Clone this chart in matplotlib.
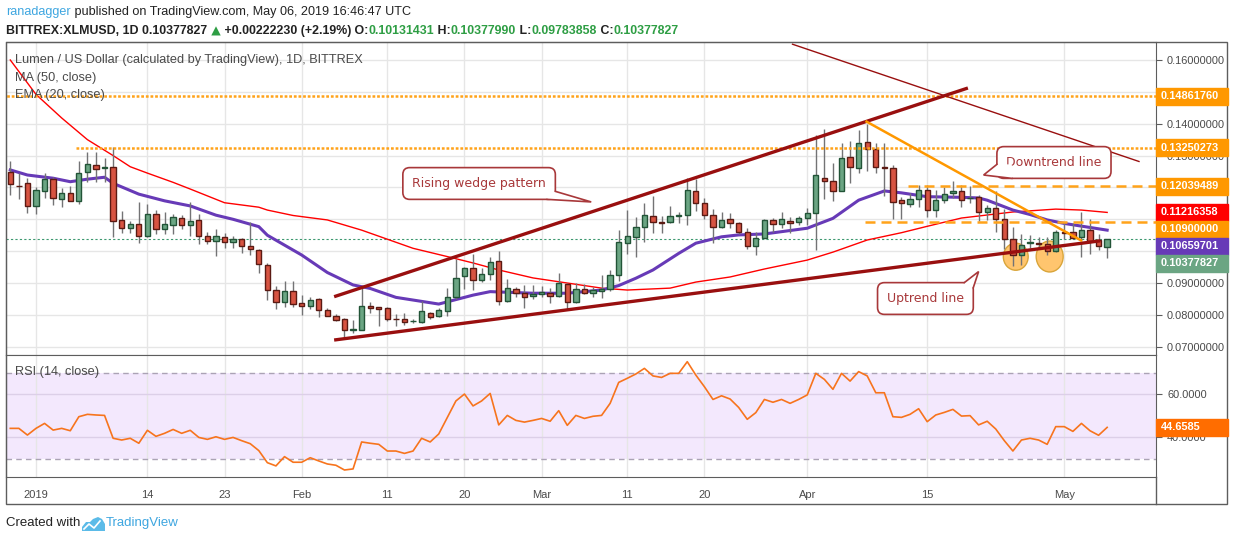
import numpy as np
import pandas as pd
import matplotlib
matplotlib.use("Agg")
import matplotlib.pyplot as plt
import matplotlib.dates as mdates
from matplotlib.patches import Rectangle, Ellipse, Polygon
from matplotlib.lines import Line2D
from matplotlib.ticker import FormatStrFormatter

# XLM/USD daily candles, Dec 29 2018 .. May 6 2019
dates = pd.date_range("2018-12-29", "2019-05-06", freq="D")

opens = [0.12495, 0.12056, 0.12129, 0.11407, 0.11878, 0.12255, 0.11627, 0.11815, 0.11564, 0.12474,
         0.12694, 0.12625, 0.12631, 0.10968, 0.10717, 0.10842, 0.10466, 0.11156, 0.10685, 0.10811,
         0.11031, 0.10811, 0.10968, 0.10466, 0.10309, 0.10434, 0.10277, 0.10372, 0.10152, 0.10026,
         0.09556, 0.08771, 0.08394, 0.08739, 0.08363, 0.08269, 0.08489, 0.08143, 0.07965, 0.07861,
         0.07526, 0.07515, 0.08279, 0.08248, 0.08206, 0.07866, 0.07861, 0.07793, 0.07766, 0.08049,
         0.07955, 0.08112, 0.08551, 0.09210, 0.09461, 0.09085, 0.09283, 0.09681, 0.08426, 0.08802,
         0.08677, 0.08582, 0.08645, 0.08698, 0.08593, 0.08959, 0.08394, 0.08802, 0.08677, 0.08750,
         0.08802, 0.09241, 0.10246, 0.10455, 0.10748, 0.11093, 0.10905, 0.10905, 0.11093, 0.11125,
         0.11878, 0.11501, 0.11125, 0.10748, 0.10999, 0.10874, 0.10591, 0.10152, 0.10403, 0.10968,
         0.10842, 0.10936, 0.10905, 0.11030, 0.11187, 0.12286, 0.12192, 0.11878, 0.12945, 0.12600,
         0.13416, 0.13196, 0.12631, 0.12600, 0.11595, 0.11470, 0.11627, 0.11909, 0.11281, 0.11595,
         0.11815, 0.11878, 0.11658, 0.11689, 0.11219, 0.11344, 0.10999, 0.10371, 0.09869, 0.10267,
         0.10267, 0.10215, 0.09995, 0.10591, 0.10591, 0.10434, 0.10654, 0.10340, 0.10131431]

highs = [0.12841, 0.12443, 0.12286, 0.12025, 0.12443, 0.12317, 0.11983, 0.12046, 0.12830, 0.13113,
         0.13113, 0.12914, 0.13259, 0.11261, 0.10947, 0.11543, 0.11481, 0.11292, 0.11229, 0.11177,
         0.11125, 0.11543, 0.11156, 0.10591, 0.10685, 0.10560, 0.10476, 0.10403, 0.10916, 0.10058,
         0.09618, 0.08907, 0.09064, 0.09064, 0.08624, 0.08562, 0.08520, 0.08206, 0.08017, 0.07892,
         0.07829, 0.08834, 0.08405, 0.08248, 0.08248, 0.08028, 0.08049, 0.07871, 0.08426, 0.08091,
         0.08206, 0.08834, 0.09744, 0.09503, 0.09901, 0.09461, 0.09806, 0.10005, 0.09116, 0.08865,
         0.08928, 0.08938, 0.08907, 0.08834, 0.09304, 0.09011, 0.08990, 0.08969, 0.08886, 0.09241,
         0.09398, 0.10664, 0.11292, 0.11062, 0.11501, 0.11731, 0.11093, 0.11407, 0.11219, 0.12286,
         0.12255, 0.11658, 0.11313, 0.11219, 0.11187, 0.10905, 0.10717, 0.10591, 0.10999, 0.11030,
         0.11219, 0.11083, 0.11093, 0.11344, 0.13646, 0.13834, 0.12757, 0.13384, 0.13458, 0.13803,
         0.13991, 0.13384, 0.13384, 0.12704, 0.11710, 0.11815, 0.12066, 0.12066, 0.11909, 0.12003,
         0.12192, 0.12066, 0.12035, 0.11752, 0.11438, 0.11878, 0.11313, 0.10748, 0.10528, 0.10497,
         0.10455, 0.10455, 0.10664, 0.10874, 0.10874, 0.11219, 0.10999, 0.10528, 0.10377990]

lows = [0.11763, 0.11648, 0.11209, 0.11177, 0.11679, 0.11460, 0.11397, 0.11564, 0.11491, 0.12181,
        0.12181, 0.12181, 0.10455, 0.10581, 0.10581, 0.10267, 0.10434, 0.10549, 0.10549, 0.10549,
        0.10706, 0.10466, 0.10236, 0.10236, 0.09838, 0.10110, 0.10110, 0.09953, 0.09890, 0.09325,
        0.08467, 0.08195, 0.08258, 0.08258, 0.08007, 0.08195, 0.07944, 0.07955, 0.07798, 0.07295,
        0.07421, 0.07515, 0.08059, 0.07651, 0.07798, 0.07651, 0.07693, 0.07735, 0.07735, 0.07881,
        0.07923, 0.07975, 0.08488, 0.08802, 0.08771, 0.09022, 0.09095, 0.08300, 0.08394, 0.08572,
        0.08227, 0.08499, 0.08572, 0.08384, 0.08561, 0.08195, 0.08363, 0.08645, 0.08572, 0.08520,
        0.08760, 0.09074, 0.09911, 0.09827, 0.10298, 0.10581, 0.10560, 0.10874, 0.10874, 0.10832,
        0.11250, 0.11010, 0.10246, 0.10717, 0.10717, 0.10539, 0.10058, 0.09869, 0.10403, 0.10591,
        0.10717, 0.10560, 0.10811, 0.10821, 0.10026, 0.11627, 0.11564, 0.11878, 0.12150, 0.12443,
        0.12506, 0.12464, 0.11731, 0.11010, 0.11010, 0.11397, 0.11376, 0.11083, 0.11083, 0.11501,
        0.11658, 0.11376, 0.11501, 0.10947, 0.10978, 0.10612, 0.10058, 0.09524, 0.09555, 0.10089,
        0.10058, 0.09869, 0.09985, 0.10371, 0.10392, 0.09806, 0.09901, 0.10037, 0.09783858]

closes = [0.12098, 0.12046, 0.11407, 0.11910, 0.12255, 0.11658, 0.11815, 0.11564, 0.12443, 0.12725,
          0.12590, 0.12631, 0.10937, 0.10717, 0.10842, 0.10466, 0.11156, 0.10685, 0.10842, 0.11062,
          0.10811, 0.10937, 0.10466, 0.10309, 0.10466, 0.10277, 0.10372, 0.10152, 0.10058, 0.09587,
          0.08771, 0.08394, 0.08739, 0.08331, 0.08269, 0.08457, 0.08143, 0.07960, 0.07829, 0.07526,
          0.07547, 0.08279, 0.08206, 0.08195, 0.07861, 0.07861, 0.07766, 0.07798, 0.08112, 0.07923,
          0.08143, 0.08551, 0.09147, 0.09472, 0.09085, 0.09273, 0.09649, 0.08426, 0.08834, 0.08677,
          0.08551, 0.08645, 0.08708, 0.08582, 0.08990, 0.08394, 0.08802, 0.08677, 0.08771, 0.08823,
          0.09241, 0.10277, 0.10465, 0.10748, 0.11125, 0.10905, 0.10874, 0.11093, 0.11125, 0.11909,
          0.11501, 0.11125, 0.10748, 0.10968, 0.10874, 0.10591, 0.10152, 0.10403, 0.10968, 0.10842,
          0.10999, 0.10874, 0.11030, 0.11187, 0.12380, 0.12192, 0.11878, 0.12914, 0.12631, 0.13384,
          0.13196, 0.12631, 0.12600, 0.11533, 0.11501, 0.11627, 0.11909, 0.11281, 0.11595, 0.11784,
          0.11878, 0.11595, 0.11668, 0.11219, 0.11344, 0.10999, 0.10371, 0.09869, 0.10204, 0.10277,
          0.10215, 0.09995, 0.10591, 0.10581, 0.10403, 0.10654, 0.10309, 0.10155597, 0.10377827]

# RSI(14) one value per candle
rsi = [44.2, 44.2, 41.1, 44.2, 46.5, 43.4, 44.2, 43.1, 49.6, 50.7,
       50.4, 50.2, 39.6, 38.8, 39.6, 37.3, 43.3, 40.5, 41.9, 43.7,
       41.9, 43.3, 40.0, 39.1, 40.3, 39.1, 40.0, 38.5, 37.1, 33.9,
       28.3, 26.8, 31.1, 28.5, 28.5, 30.6, 29.1, 27.7, 27.1, 24.9,
       25.4, 37.9, 37.3, 36.8, 33.7, 33.7, 32.6, 33.7, 39.6, 37.9,
       41.6, 49.3, 56.9, 60.1, 54.6, 56.9, 60.4, 45.8, 50.2, 47.9,
       47.1, 47.9, 48.8, 47.5, 52.4, 45.6, 50.2, 48.8, 49.8, 50.2,
       55.8, 65.5, 67.4, 69.4, 72.0, 68.5, 67.8, 69.7, 69.7, 75.1,
       68.9, 63.5, 57.6, 59.3, 57.8, 53.9, 48.4, 51.5, 57.6, 56.3,
       57.6, 55.8, 57.6, 59.7, 69.7, 66.9, 62.3, 69.7, 66.1, 70.5,
       68.5, 60.7, 60.7, 49.6, 49.3, 50.7, 53.3, 47.3, 50.4, 51.6,
       53.0, 49.9, 50.1, 45.8, 47.5, 43.9, 38.5, 33.7, 38.8, 39.6,
       38.8, 36.8, 45.0, 45.0, 42.8, 46.5, 43.1, 41.0, 44.6585]

# MA(50) and EMA(20), read at points along the lines
ma50_days = ["2018-12-29", "2019-01-01", "2019-01-04", "2019-01-07", "2019-01-10", "2019-01-12",
             "2019-01-14", "2019-01-17", "2019-01-19", "2019-01-23", "2019-01-27", "2019-01-28",
             "2019-01-31", "2019-02-04", "2019-02-08", "2019-02-10", "2019-02-14", "2019-02-18",
             "2019-02-21", "2019-02-24", "2019-02-28", "2019-03-04", "2019-03-08", "2019-03-11",
             "2019-03-16", "2019-03-19", "2019-03-23", "2019-03-27", "2019-04-01", "2019-04-04",
             "2019-04-08", "2019-04-12", "2019-04-15", "2019-04-19", "2019-04-25", "2019-04-30",
             "2019-05-03", "2019-05-06"]
ma50_vals = [0.1600, 0.1492, 0.1418, 0.1350, 0.1300, 0.1265, 0.1245, 0.1216, 0.1195, 0.1152,
             0.1138, 0.1129, 0.1112, 0.1098, 0.1066, 0.1047, 0.1009, 0.0983, 0.0963, 0.0941,
             0.0916, 0.0900, 0.0884, 0.0878, 0.0884, 0.0903, 0.0919, 0.0944, 0.0972, 0.0997,
             0.1035, 0.1058, 0.1078, 0.1104, 0.1123, 0.1132, 0.1129, 0.11216358]

ema20_days = ["2018-12-29", "2018-12-31", "2019-01-03", "2019-01-05", "2019-01-07", "2019-01-09",
              "2019-01-10", "2019-01-13", "2019-01-16", "2019-01-19", "2019-01-22", "2019-01-24",
              "2019-01-27", "2019-01-28", "2019-01-30", "2019-02-01", "2019-02-04", "2019-02-07",
              "2019-02-09", "2019-02-12", "2019-02-17", "2019-02-18", "2019-02-21", "2019-02-23",
              "2019-02-28", "2019-03-04", "2019-03-08", "2019-03-10", "2019-03-12", "2019-03-14",
              "2019-03-17", "2019-03-19", "2019-03-22", "2019-03-24", "2019-03-27", "2019-04-01",
              "2019-04-04", "2019-04-07", "2019-04-10", "2019-04-12", "2019-04-15", "2019-04-19",
              "2019-04-21", "2019-04-22", "2019-04-25", "2019-04-27", "2019-04-29", "2019-05-01",
              "2019-05-06"]
ema20_vals = [0.1255, 0.1239, 0.1229, 0.1218, 0.1226, 0.1232, 0.1213, 0.1179, 0.1158, 0.1142,
              0.1113, 0.1100, 0.1077, 0.1050, 0.1019, 0.0988, 0.0933, 0.0894, 0.0883, 0.0855,
              0.0834, 0.0841, 0.0862, 0.0873, 0.0868, 0.0868, 0.0878, 0.0892, 0.0915, 0.0941,
              0.0993, 0.1025, 0.1045, 0.1051, 0.1054, 0.1072, 0.1103, 0.1160, 0.1189, 0.1183,
              0.1171, 0.1169, 0.1167, 0.1160, 0.1129, 0.1115, 0.1098, 0.1087, 0.10659701]

# horizontal levels drawn by the author
level_dotted = [0.14861760, 0.13250273]
level_dotted_start = ["2018-12-28", "2019-01-05 16:00"]
level_dashed = [0.12039489, 0.10900000]
level_dashed_start = ["2019-04-12 17:00", "2019-04-07 17:00"]

# trend lines: start date, start price, end date, end price
wedge_top = ("2019-02-04 19:00", 0.08571, "2019-04-19 18:00", 0.15121)
wedge_bottom = ("2019-02-04 19:00", 0.07211, "2019-05-05 05:00", 0.10325)
downtrend = ("2019-03-30 05:00", 0.16502, "2019-05-09 19:00", 0.12808)
orange_trend = ("2019-04-07 19:00", 0.14085, "2019-05-03 02:00", 0.10319)

# callouts: text, text anchor (date, price), tail tip (date, price)
callouts = [("Rising wedge pattern", ("2019-02-21 17:00", 0.12124), ("2019-03-06 19:00", 0.11545)),
            ("Downtrend line", ("2019-04-29 19:00", 0.12783), ("2019-04-21 14:00", 0.12390)),
            ("Uptrend line", ("2019-04-14 19:00", 0.08514), ("2019-04-21 00:00", 0.09360))]
# where each tail leaves its box: corner, then two offsets in pixels (y down)
tail_bases = [("br", (0, -8), (-8, 0)),
              ("bl", (0, -14), (15, 0)),
              ("tr", (-9, 0), (0, 5))]

# double-bottom markers: centre date, centre price, width (days), height (price)
bottoms = [("2019-04-25 08:00", 0.09826, 2.9, 0.0085),
           ("2019-04-29 07:00", 0.09832, 3.15, 0.0097)]

tick_dates = ["2019-01-01", "2019-01-14", "2019-01-23", "2019-02-01", "2019-02-11", "2019-02-20",
              "2019-03-01", "2019-03-11", "2019-03-20", "2019-04-01", "2019-04-15", "2019-05-01"]
tick_labels = ["2019", "14", "23", "Feb", "11", "20", "Mar", "11", "20", "Apr", "15", "May"]
price_ticks = [0.07, 0.08, 0.09, 0.10, 0.11, 0.12, 0.13, 0.14, 0.15, 0.16]

UP, UP_EDGE = "#6ba583", "#225437"
DN, DN_EDGE = "#d75442", "#5b1a13"
WICK = "#737375"
GRID = "#e6e6e6"
FRAME = "#5d5d5d"
ORANGE = "#ff9800"
PURPLE = "#673ab7"
RED_MA = "#ff0000"
WEDGE = "#990f0f"
NOTE = "#a8383a"
TEXT = "#4a4a4a"
HEAD_GREEN = "#2e9e44"

FONT = ["Liberation Sans", "DejaVu Sans"]
plt.rcParams["font.family"] = FONT

W, H = 1234, 541


def fx(px):
    return px / W


def fy(py):
    return 1 - py / H


def num(d):
    return mdates.date2num(pd.Timestamp(d))


fig = plt.figure(figsize=(W / 100, H / 100), dpi=100)
ax = fig.add_axes([fx(6), fy(355), fx(1156) - fx(6), fy(42) - fy(355)])
rx = fig.add_axes([fx(6), fy(477), fx(1156) - fx(6), fy(355) - fy(477)])

jan1 = num("2019-01-01")
xlim = (jan1 - 3.5, jan1 + 130.7)

# ---- price panel ----
xd = mdates.date2num(dates)
o, hi, lo, cl = (np.array(v) for v in (opens, highs, lows, closes))
up = cl >= o
body_bottom = np.minimum(o, cl)
body_height = np.maximum(np.abs(cl - o), 0.00008)

ax.vlines(xd, lo, hi, color=WICK, lw=1, zorder=3)
ax.bar(xd[up], body_height[up], bottom=body_bottom[up], width=0.62,
       color=UP, edgecolor=UP_EDGE, lw=1, zorder=4)
ax.bar(xd[~up], body_height[~up], bottom=body_bottom[~up], width=0.62,
       color=DN, edgecolor=DN_EDGE, lw=1, zorder=4)

ax.plot(mdates.date2num(pd.to_datetime(ma50_days)), ma50_vals, color=RED_MA, lw=1, zorder=2.6)
ax.plot(mdates.date2num(pd.to_datetime(ema20_days)), ema20_vals, color=PURPLE, lw=2.2,
        zorder=2.7, solid_joinstyle="round")

for lvl, start in zip(level_dotted, level_dotted_start):
    ax.hlines(lvl, num(start), xlim[1], colors="#ffa31a", lw=1.8,
              linestyles=[(0, (1.1, 0.75))], zorder=5)
for lvl, start in zip(level_dashed, level_dashed_start):
    ax.hlines(lvl, num(start), xlim[1], colors="#ffa31a", lw=1.8,
              linestyles=[(0, (4, 2.4))], zorder=5)
ax.hlines(closes[-1], xlim[0], xlim[1], colors="#3d9970", lw=0.8,
          linestyles=[(0, (2, 2))], zorder=2.5)

for cx, cy, w, h in bottoms:
    ax.add_patch(Ellipse((num(cx), cy), w, h, fc="#ffc56e", ec="#d9a53a", lw=1, zorder=2.4))

for line, col, lw in [(wedge_top, WEDGE, 2.4), (wedge_bottom, WEDGE, 2.4),
                      (downtrend, WEDGE, 1.0), (orange_trend, ORANGE, 1.8)]:
    d0, p0, d1, p1 = line
    ax.plot([num(d0), num(d1)], [p0, p1], color=col, lw=lw, zorder=5.5, solid_capstyle="butt")

notes = []
for text, (tx, ty), tip in callouts:
    notes.append(ax.annotate(text, xy=(num(tx), ty), ha="center", va="center",
                             color=NOTE, fontsize=9, family=["DejaVu Sans"], zorder=9,
                             bbox=dict(boxstyle="round,pad=0.75,rounding_size=0.55",
                                       fc="white", ec=NOTE, lw=1.2)))

ax.set_xlim(*xlim)
ax.set_ylim(0.06741, 0.16565)
ax.set_yticks(price_ticks)
ax.yaxis.set_major_formatter(FormatStrFormatter("%.8f"))
ax.yaxis.tick_right()
ax.set_xticks([num(d) for d in tick_dates])
ax.tick_params(axis="x", length=0, labelbottom=False)
ax.tick_params(axis="y", length=4, color=FRAME, labelsize=7.9, labelcolor=TEXT, pad=4)
ax.grid(True, color=GRID, lw=1)
ax.set_axisbelow(True)
for s in ax.spines.values():
    s.set_color(FRAME)

# ---- RSI panel ----
rx.axhspan(30, 70, color="#f3e8fd", zorder=0, lw=0)
rx.hlines([30, 70], xlim[0], xlim[1], colors="#aba3b5", lw=1, linestyles=[(0, (4, 3))], zorder=1)
rx.plot(xd, rsi, color="#f7741d", lw=1.2, zorder=3)
rx.set_xlim(*xlim)
rx.set_ylim(21.66, 78.2)
rx.set_yticks([40, 60])
rx.yaxis.set_major_formatter(FormatStrFormatter("%.4f"))
rx.yaxis.tick_right()
rx.set_xticks([num(d) for d in tick_dates])
rx.set_xticklabels(tick_labels)
rx.tick_params(axis="x", length=0, labelsize=8, labelcolor=TEXT, pad=9)
rx.tick_params(axis="y", length=4, color=FRAME, labelsize=7.9, labelcolor=TEXT, pad=4)
rx.grid(True, axis="x", color=GRID, lw=1)
rx.grid(True, axis="y", color="#dccfe8", lw=1)
rx.set_axisbelow(True)
for s in rx.spines.values():
    s.set_color(FRAME)

# outer frame and axis separator
fig.add_artist(Rectangle((fx(6), fy(504)), fx(1227) - fx(6), fy(42) - fy(504),
                         fill=False, ec=FRAME, lw=1, transform=fig.transFigure, zorder=4))
fig.add_artist(Line2D([fx(1156), fx(1156)], [fy(477), fy(504)], color=FRAME, lw=1,
                      transform=fig.transFigure))

# ---- callout tails, joined to the drawn boxes ----
fig.canvas.draw()
renderer = fig.canvas.get_renderer()
to_data = ax.transData.inverted()
for note, (text, anchor, tip), (corner, b1, b2) in zip(notes, callouts, tail_bases):
    bb = note.get_bbox_patch().get_window_extent(renderer)
    cx_ = bb.x0 if corner[1] == "l" else bb.x1
    cy_ = H - bb.y0 if corner[0] == "b" else H - bb.y1
    img = [(cx_ + b1[0], cy_ + b1[1]), (cx_ + b2[0], cy_ + b2[1]),
           (cx_ + b1[0] + b2[0], cy_ + b1[1] + b2[1])]
    p1, p2, inner = [tuple(to_data.transform((a, H - b))) for a, b in img]
    tp = (num(tip[0]), tip[1])
    ax.add_patch(Polygon([p1, tp, p2, inner], closed=True, fc="white", ec="none", zorder=9.5))
    ax.plot([p1[0], tp[0], p2[0]], [p1[1], tp[1], p2[1]], color=NOTE, lw=1.2, zorder=9.6,
            solid_joinstyle="miter")

# ---- price tags on the right scale (stacked like TradingView) ----
def py_of(a, val):
    return H - a.transData.transform((xlim[0], val))[1]


tags = [(level_dotted[0], ORANGE), (level_dotted[1], ORANGE), (level_dashed[0], ORANGE),
        (ma50_vals[-1], RED_MA), (level_dashed[1], ORANGE), (ema20_vals[-1], PURPLE),
        (closes[-1], UP)]
tags.sort(key=lambda t: -t[0])
prev = -1e9
tag_rows = []
for val, col in tags:
    yy = max(py_of(ax, val), prev + 17)
    prev = yy
    tag_rows.append(yy)
    fig.add_artist(Rectangle((fx(1156), fy(yy + 8.5)), fx(1228) - fx(1156), 17 / H,
                             fc=col, ec=col, transform=fig.transFigure, zorder=5))
    fig.text(fx(1161), fy(yy), f"{val:.8f}", color="white", fontsize=7.9,
             fontweight="bold", va="center", zorder=6)

# scale labels fully hidden under a tag are not shown
for t, val in zip(ax.yaxis.get_major_ticks(), price_ticks):
    if any(abs(py_of(ax, val) - r) < 7 for r in tag_rows):
        t.label2.set_visible(False)

yy = py_of(rx, rsi[-1])
fig.add_artist(Rectangle((fx(1156), fy(yy + 8.5)), fx(1228) - fx(1156), 17 / H,
                         fc="#ff6d00", ec="#ff6d00", transform=fig.transFigure, zorder=5))
fig.text(fx(1161), fy(yy), f"{rsi[-1]:.4f}", color="white", fontsize=7.9,
         fontweight="bold", va="center", zorder=6)

# ---- text rows ----
def put_row(pieces, x_px, y_px, right_px, size, weight="normal"):
    def build(sz):
        return [fig.text(0, fy(y_px), s, color=c, fontsize=sz, fontweight=weight,
                         family=f or FONT, va="center", zorder=7) for s, c, f in pieces]
    arts = build(size)
    total = sum(a.get_window_extent(renderer).width for a in arts)
    new = size * (right_px - x_px) / total
    for a in arts:
        a.remove()
    arts = build(new)
    cur = x_px
    for a in arts:
        a.set_x(fx(cur))
        cur += a.get_window_extent(renderer).width


chg = closes[-1] - closes[-2]
pct = chg / closes[-2] * 100
put_row([("ranadagger", "#3ea6e0", None),
         (" published on TradingView.com, May 06, 2019 16:46:47 UTC", "#222222", None)],
        6, 12, 413, 9)
put_row([("BITTREX:XLMUSD, 1D " + f"{closes[-1]:.8f}", "#222222", None),
         (" \u25b2", HEAD_GREEN, ["DejaVu Sans"]),
         (f" +{chg:.8f} (+{pct:.2f}%)", "#222222", None),
         (" O:", "#222222", None), (f"{opens[-1]:.8f}", HEAD_GREEN, None),
         (" H:", "#222222", None), (f"{highs[-1]:.8f}", HEAD_GREEN, None),
         (" L:", "#222222", None), (f"{lows[-1]:.8f}", HEAD_GREEN, None),
         (" C:", "#222222", None), (f"{closes[-1]:.8f}", HEAD_GREEN, None)],
        6, 31, 683, 9.5, weight="bold")
put_row([("Lumen / US Dollar (calculated by TradingView), 1D, BITTREX", TEXT, None)],
        15, 60, 364, 9)
fig.text(fx(15), fy(78), "MA (50, close)", color=TEXT, fontsize=9.2, va="center", zorder=7)
fig.text(fx(15), fy(95), "EMA (20, close)", color=TEXT, fontsize=9.2, va="center", zorder=7)
fig.text(fx(15), fy(372), "RSI (14, close)", color=TEXT, fontsize=9.2, va="center", zorder=7)

fig.text(fx(6), fy(523), "Created with", color="#222222", fontsize=9.5, va="center")
logo = [(82, 531), (82, 527), (86, 522), (90, 522), (93, 519), (98, 517), (102, 519),
        (105, 524), (105, 531)]
fig.add_artist(Polygon([(fx(a), fy(b)) for a, b in logo], closed=True, fc="#5bbbe8",
                       ec="none", transform=fig.transFigure))
wave = [(84, 529), (89, 524), (94, 528), (100, 521)]
fig.add_artist(Line2D([fx(a) for a, b in wave], [fy(b) for a, b in wave], color="white",
                      lw=1.2, transform=fig.transFigure))
fig.text(fx(106), fy(523), "TradingView", color="#3ea6e0", fontsize=9.5, va="center")

fig.savefig("out.png", dpi=100)
